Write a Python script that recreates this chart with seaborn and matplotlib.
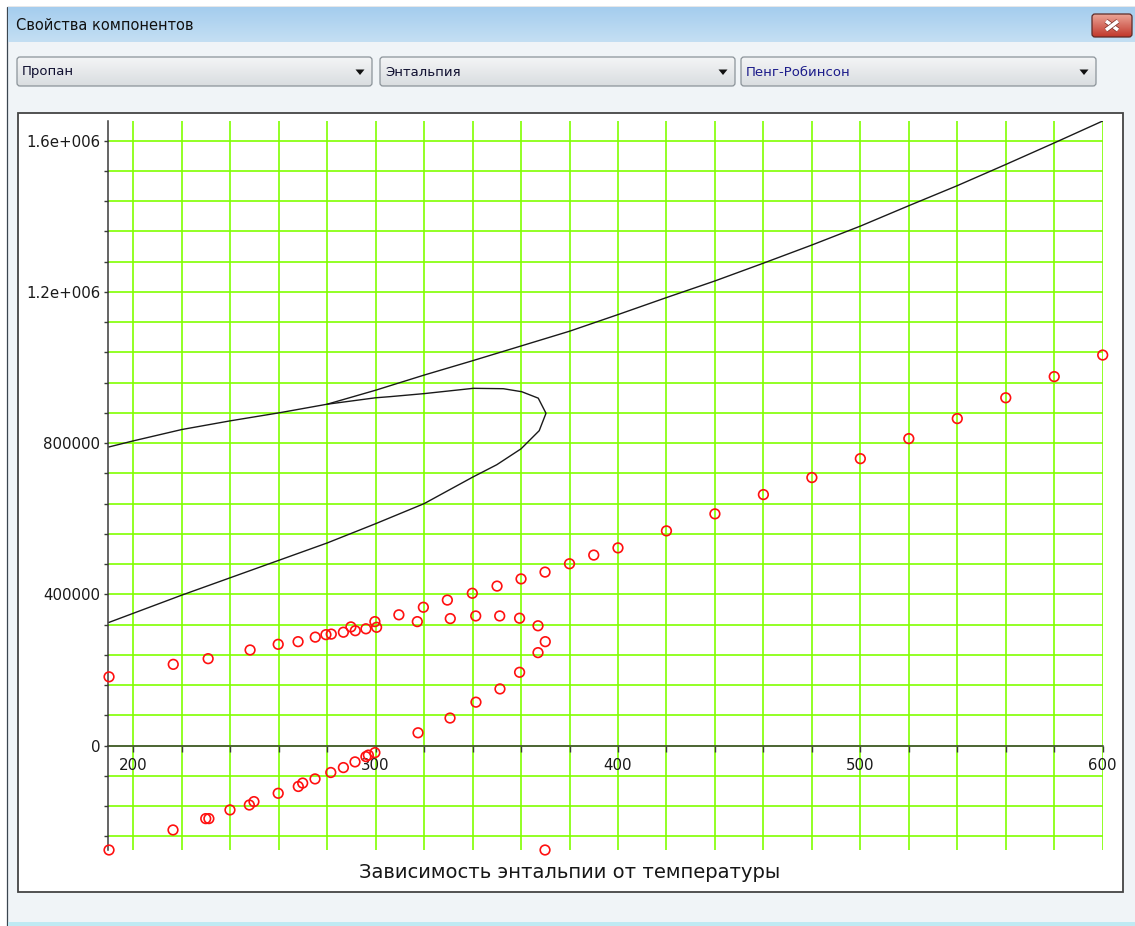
import numpy as np
import pandas as pd
import seaborn as sns
import matplotlib.pyplot as plt
import matplotlib.patheffects as pe
from matplotlib.patches import Rectangle, FancyBboxPatch, Polygon
from matplotlib.colors import LinearSegmentedColormap

#upper curve (enthalpy vs temperature)
line_t = [190, 200, 220, 240, 260, 280, 300, 320, 340, 360, 380, 400,
          420, 440, 460, 480, 500, 520, 540, 560, 580, 600]
line_h = [790000, 806000, 836000, 859000, 880000, 903000, 940000, 980000,
          1018000, 1057000, 1096000, 1140000, 1185000, 1229000, 1276000,
          1324000, 1374000, 1428000, 1481000, 1537000, 1594000, 1652000]

#two-phase loop: liquid branch up, then back along the vapour side
dome_t = [190, 220, 240, 260, 280, 300, 320, 340, 350, 360, 367.5, 370.3,
          367.1, 360.3, 352.7, 340.3, 320, 306, 300, 280]
dome_h = [326000, 398000, 444000, 490000, 536000, 587000, 640000, 710000,
          743000, 785000, 833000, 879000, 919000, 936000, 944000, 945000,
          931000, 923000, 920000, 903000]

#calculated points
pts_t = [190, 216.5, 230.9, 248.2, 259.8, 268.0, 275.1, 279.5, 281.7, 286.7,
         289.8, 291.6, 296.0, 299.7, 300.4, 309.6, 317.2, 319.7, 329.6, 330.8,
         339.9, 341.3, 350.1, 351.2, 360.0, 359.4, 369.9, 367.0, 370.0, 367.0,
         359.4, 351.3, 341.4, 330.7, 317.5,
         380, 390, 400, 420, 440, 460, 480, 500, 520, 540, 560, 580, 600,
         190, 216.4, 229.9, 231.2, 239.9, 247.9, 249.8, 259.8, 268.1, 269.9,
         275.0, 281.5, 286.7, 291.5, 296.0, 297.0, 299.7, 369.9]
pts_h = [182000, 215000, 230000, 253000, 268000, 275000, 287000, 293500,
         295000, 300000, 314000, 304000, 309000, 328000, 313000, 346000,
         328000, 366000, 385000, 336000, 403000, 343000, 422000, 343000,
         441000, 337000, 459000, 317000, 275000, 246000, 194000, 150000,
         115000, 73000, 34000,
         481000, 504000, 523000, 568000, 613000, 664000, 709000, 759000,
         812000, 865000, 920000, 976000, 1033000,
         -276000, -223000, -193000, -193000, -170000, -157000, -148000,
         -126000, -108000, -99000, -88000, -71000, -58000, -43000, -29000,
         -25000, -18500, -276000]

x_ticks = list(range(200, 601, 20))
x_labels = [str(t) if t % 100 == 0 else '' for t in x_ticks]
y_ticks = list(range(-240000, 1600001, 80000))
y_major = {0: '0', 400000: '400000', 800000: '800000',
           1200000: '1.2e+006', 1600000: '1.6e+006'}
y_labels = [y_major.get(v, '') for v in y_ticks]

W, H = 1135, 926

sns.set_theme(style='white')
plt.rcParams['font.family'] = ['DejaVu Sans']

fig = plt.figure(figsize=(W / 100, H / 100), dpi=100)
fig.patch.set_facecolor('white')

#background axes in pixel coordinates for the dialog chrome
bg = fig.add_axes([0, 0, 1, 1], zorder=0)
bg.set_axis_off()


def grad(x0, y0, x1, y1, c_top, c_bot, clip=None, z=1):
    cmap = LinearSegmentedColormap.from_list('g', [c_top, c_bot])
    im = bg.imshow(np.linspace(0, 1, 64).reshape(-1, 1), cmap=cmap,
                   extent=(x0, x1, y1, y0), aspect='auto', origin='upper',
                   zorder=z, interpolation='bilinear')
    if clip is not None:
        im.set_clip_path(clip)


#window body
bg.add_patch(Rectangle((7, 7), W, H, facecolor='#f0f4f7', edgecolor='#3b4650',
                       lw=0.9, zorder=0.5))
bg.add_patch(Rectangle((7.5, 922), W, 5, facecolor='#bfeaf3', edgecolor='none', zorder=0.6))
#title bar
grad(7.5, 7.5, W, 42, '#a5cdee', '#c4dff3', z=1)
bg.text(16, 26, 'Свойства компонентов', fontsize=10.5, color='#111111',
        va='center', ha='left', zorder=3)

#close button
btn = FancyBboxPatch((1092, 14), 40, 23, boxstyle='round,pad=0,rounding_size=3',
                     facecolor='none', edgecolor='#5e2a26', lw=0.9, zorder=4)
bg.add_patch(btn)
grad(1092, 14, 1132, 37, '#eba597', '#c1372b', clip=btn, z=3)
for xa, ya, xb, yb in [(1106, 21, 1118, 30), (1106, 30, 1118, 21)]:
    bg.plot([xa, xb], [ya, yb], color='white', lw=2.6, solid_capstyle='butt', zorder=5,
            path_effects=[pe.Stroke(linewidth=3.6, foreground='#7a2a22'), pe.Normal()])

#drop-down boxes
combos = [(17, 372, 'Пропан', '#101030'), (380, 735, 'Энтальпия', '#101030'),
          (741, 1096, 'Пенг-Робинсон', '#1b1b8a')]
for cx0, cx1, label, tc in combos:
    box = FancyBboxPatch((cx0, 57), cx1 - cx0, 29, boxstyle='round,pad=0,rounding_size=3',
                         facecolor='none', edgecolor='#8b9399', lw=0.9, zorder=4)
    bg.add_patch(box)
    grad(cx0, 57, cx1, 86, '#f4f5f6', '#d9dde0', clip=box, z=3)
    bg.text(cx0 + 5, 72, label, fontsize=9.5, color=tc, va='center', ha='left', zorder=5)
    ax_c = cx1 - 12
    bg.add_patch(Polygon([(ax_c - 4.5, 69.5), (ax_c + 4.5, 69.5), (ax_c, 75)],
                         closed=True, facecolor='#111111', edgecolor='none', zorder=5))

#chart frame
bg.add_patch(Rectangle((18, 113), 1105, 779, facecolor='white', edgecolor='#444444',
                       lw=1.3, zorder=2))
bg.text(570, 873, 'Зависимость энтальпии от температуры', fontsize=14,
        color='#161616', ha='center', va='center', zorder=3)

bg.set_xlim(0, W)
bg.set_ylim(H, 0)

#chart axes
ax = fig.add_axes([108.3 / W, 1 - 850 / H, (1102.7 - 108.3) / W, (850 - 121) / H], zorder=1)
ax.patch.set_alpha(0)

line_df = pd.DataFrame({'T': line_t, 'H': line_h})
dome_df = pd.DataFrame({'T': dome_t, 'H': dome_h})
pts_df = pd.DataFrame({'T': pts_t, 'H': pts_h})

sns.lineplot(data=line_df, x='T', y='H', sort=False, estimator=None,
             color='#1a1a1a', lw=1.0, ax=ax, zorder=3)
sns.lineplot(data=dome_df, x='T', y='H', sort=False, estimator=None,
             color='#1a1a1a', lw=1.0, ax=ax, zorder=3)
sns.scatterplot(data=pts_df, x='T', y='H', marker='o', s=48, facecolor='none',
                edgecolor='#ff1010', linewidth=1.2, ax=ax, zorder=4, clip_on=False)

ax.set_xlim(189.7, 600)
ax.set_ylim(-276000, 1652000)
ax.set_xticks(x_ticks)
ax.set_xticklabels(x_labels)
ax.set_yticks(y_ticks)
ax.set_yticklabels(y_labels)
ax.set_xlabel('')
ax.set_ylabel('')

ax.grid(True, color='#80ff00', lw=1.2)
ax.set_axisbelow(True)

for s in ['top', 'right']:
    ax.spines[s].set_visible(False)
ax.spines['bottom'].set_position(('data', 0))
ax.spines['left'].set_color('#3a3a3a')
ax.spines['bottom'].set_color('#3a3a3a')
ax.spines['left'].set_linewidth(1.1)
ax.spines['bottom'].set_linewidth(1.1)

ax.tick_params(axis='x', direction='out', length=4, width=1, color='#3a3a3a',
               pad=5, labelsize=10.8, labelcolor='#1a1a1a', bottom=True)
ax.tick_params(axis='y', direction='out', length=3.2, width=1, color='#3a3a3a',
               pad=2.5, labelsize=10.8, labelcolor='#1a1a1a', left=True)

fig.savefig('out.png', dpi=100)
